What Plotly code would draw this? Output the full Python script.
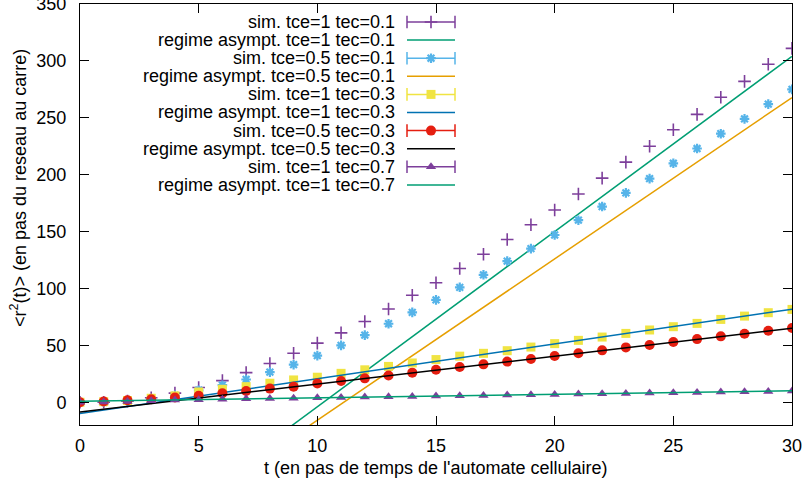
import plotly.graph_objects as go

# ---------------- data ----------------
t = list(range(31))

sim_tce1_tec01 = [0, 0, 1, 4, 8, 13, 19, 26, 34, 43, 52, 61, 71, 82, 94, 105, 117.5, 130,
                  143, 156, 169, 183, 197, 211, 225, 239.5, 253, 268, 282, 297, 311]
sim_tce05_tec01 = [0, 0, 1, 3, 6, 10.5, 15, 20, 26.5, 33, 41, 50, 59, 69, 79, 90, 101, 112,
                   124, 135, 147, 160, 172, 184, 196.5, 210, 223, 236, 249, 262, 275]
sim_tce1_tec03 = [0, 0.5, 1.5, 3.5, 5.6, 9, 11.4, 13.7, 16.7, 19.6, 22, 25.4, 28.5, 31.5,
                  34.5, 37.5, 40.5, 43, 45.3, 48.5, 51.5, 54.4, 57.3, 60.5, 63.5, 66.4,
                  69.3, 72.8, 75.7, 78.7, 81.6]
sim_tce05_tec03 = [0, 0.6, 1.7, 2.6, 4.1, 5.6, 7.9, 9.9, 12, 13.7, 16.4, 18.7, 21, 23.5, 26,
                   28.5, 31, 33.3, 35.7, 38, 40.6, 43, 45.6, 48.2, 50.3, 52.9, 55.5, 57.9,
                   60.2, 62.9, 65.2]
sim_tce1_tec07 = [0, 0.2, 0.7, 1.3, 1.9, 2.3, 2.7, 3.0, 3.2, 3.6, 3.9, 4.1, 4.5, 4.8, 5.0,
                  5.4, 5.7, 5.9, 6.3, 6.6, 6.8, 7.2, 7.5, 7.7, 8.1, 8.4, 8.6, 9.0, 9.3, 9.5, 9.9]

# asymptotic regimes: values read at t = 0 and t = 30
t_line = [0, 30]
asym_tce1_tec01 = [-158, 304]
asym_tce05_tec01 = [-157.6, 267.8]
asym_tce1_tec03 = [-10, 81.8]
asym_tce05_tec03 = [-8.5, 65]
asym_tce1_tec07 = [0.8, 10.1]

labels = ["sim. tce=1 tec=0.1", "regime asympt. tce=1 tec=0.1",
          "sim. tce=0.5 tec=0.1", "regime asympt. tce=0.5 tec=0.1",
          "sim. tce=1 tec=0.3", "regime asympt. tce=1 tec=0.3",
          "sim. tce=0.5 tec=0.3", "regime asympt. tce=0.5 tec=0.3",
          "sim. tce=1 tec=0.7", "regime asympt. tce=1 tec=0.7"]

x_ticks = [0, 5, 10, 15, 20, 25, 30]
y_ticks = [0, 50, 100, 150, 200, 250, 300, 350]

# ---------------- styles ----------------
PURPLE = "#7d3f9b"
GREEN = "#009e73"
SKY = "#56b4e9"
ORANGE = "#e69f00"
YELLOW = "#f0e442"
BLUE = "#0072b2"
RED = "#e51e10"
BLACK = "#000000"
FONT = "Liberation Sans, Arial, sans-serif"

# (kind, data, color, symbol, size, stroke)
series = [
    ("sim", sim_tce1_tec01, PURPLE, "cross-thin", 9, 1.6),
    ("line", asym_tce1_tec01, GREEN, None, None, None),
    ("sim", sim_tce05_tec01, SKY, "asterisk-open", 8, 2.2),
    ("line", asym_tce05_tec01, ORANGE, None, None, None),
    ("sim", sim_tce1_tec03, YELLOW, "square", 9, 0),
    ("line", asym_tce1_tec03, BLUE, None, None, None),
    ("sim", sim_tce05_tec03, RED, "circle", 10, 0),
    ("line", asym_tce05_tec03, BLACK, None, None, None),
    ("sim", sim_tce1_tec07, PURPLE, "triangle-up", 9, 0),
    ("line", asym_tce1_tec07, GREEN, None, None, None),
]

fig = go.Figure()

for (kind, data, color, symbol, size, stroke), name in zip(series, labels):
    if kind == "sim":
        fig.add_trace(go.Scatter(
            x=t, y=data, mode="markers", name=name, showlegend=False,
            marker=dict(symbol=symbol, size=size, color=color,
                        line=dict(color=color, width=stroke))))
    else:
        fig.add_trace(go.Scatter(
            x=t_line, y=data, mode="lines", name=name, showlegend=False,
            line=dict(color=color, width=1.5)))

# ---------------- custom legend (text right, sample left) ----------------
L, R, T, B = 80, 792, 4, 425
row0, row_step = 22, 18.1
text_right = 396
s_x0, s_x1, s_xm = 407, 455, 431

annotations = []
for i, ((kind, data, color, symbol, size, stroke), name) in enumerate(zip(series, labels)):
    yp = row0 + i * row_step
    annotations.append(dict(
        text=name, xref="paper", yref="paper",
        x=(text_right - L) / (R - L), y=(B - yp) / (B - T),
        xanchor="right", yanchor="middle", showarrow=False, borderpad=0,
        font=dict(family=FONT, size=18, color="black")))
    fig.add_trace(go.Scatter(
        x=[s_x0, s_x1], y=[yp, yp], mode="lines", xaxis="x2", yaxis="y2",
        line=dict(color=color, width=1.5), showlegend=False, hoverinfo="skip"))
    if kind == "sim":
        fig.add_trace(go.Scatter(
            x=[s_x0, s_x1], y=[yp, yp], mode="markers", xaxis="x2", yaxis="y2",
            marker=dict(symbol="line-ns", size=9, line=dict(color=color, width=1.5)),
            showlegend=False, hoverinfo="skip"))
        fig.add_trace(go.Scatter(
            x=[s_xm], y=[yp], mode="markers", xaxis="x2", yaxis="y2",
            marker=dict(symbol=symbol, size=size, color=color,
                        line=dict(color=color, width=stroke)),
            showlegend=False, hoverinfo="skip"))

# axis titles
annotations.append(dict(
    text="t (en pas de temps de l'automate cellulaire)", xref="paper", yref="paper",
    x=0.5, y=(B - 468) / (B - T), xanchor="center", yanchor="middle", showarrow=False,
    font=dict(family=FONT, size=18, color="black")))
annotations.append(dict(
    text="&lt;r<sup>2</sup>(t)&gt; (en pas du reseau au carre)", xref="paper", yref="paper",
    x=(18 - L) / (R - L), y=(B - 188) / (B - T), xanchor="center", yanchor="middle",
    textangle=-90, showarrow=False,
    font=dict(family=FONT, size=18, color="black")))

axis_common = dict(showline=True, linecolor="black", linewidth=1, mirror="ticks",
                   ticks="inside", ticklen=9, tickcolor="black", tickwidth=1,
                   showgrid=False, zeroline=False, automargin=False,
                   ticklabeloverflow="allow",
                   tickfont=dict(family=FONT, size=18, color="black"))

fig.update_layout(
    width=804, height=486,
    margin=dict(l=L, r=804 - R, t=T, b=486 - B, pad=0),
    paper_bgcolor="white", plot_bgcolor="white",
    showlegend=False,
    xaxis=dict(range=[0, 30], tickvals=x_ticks, ticklabelstandoff=4, **axis_common),
    yaxis=dict(range=[-20, 350.001], tickvals=y_ticks, ticklabelstandoff=9, **axis_common),
    xaxis2=dict(overlaying="x", range=[L, R], visible=False, fixedrange=True,
                automargin=False),
    yaxis2=dict(overlaying="y", range=[B, T], visible=False, fixedrange=True,
                automargin=False),
    annotations=annotations,
)

fig.write_html("out.html",
               config={"displayModeBar": False},
               post_script="document.body.style.margin='0px';"
                           "document.body.style.padding='0px';")
